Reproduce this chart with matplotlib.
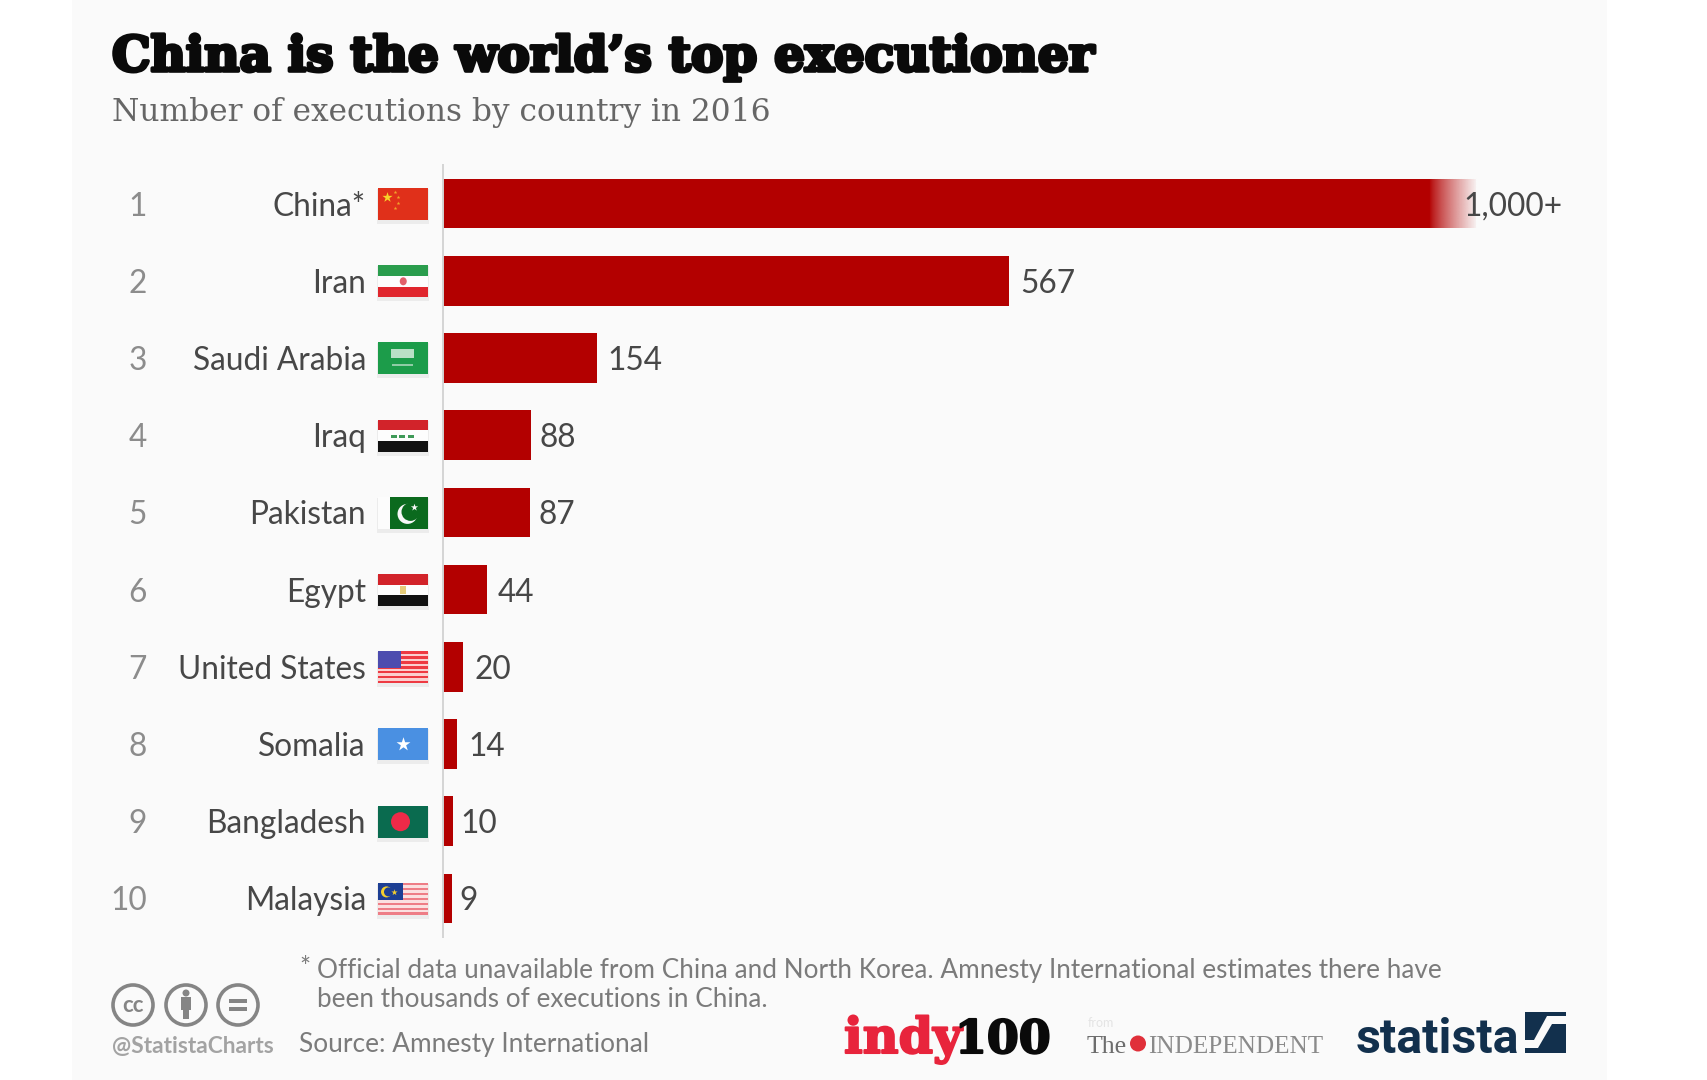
import numpy as np
import matplotlib
matplotlib.use("Agg")
import matplotlib.pyplot as plt
import matplotlib.patheffects as pe
from matplotlib.patches import Rectangle, Circle, Polygon, Ellipse

# ---- data ----
ranks = ["1", "2", "3", "4", "5", "6", "7", "8", "9", "10"]
countries = ["China*", "Iran", "Saudi Arabia", "Iraq", "Pakistan", "Egypt",
             "United States", "Somalia", "Bangladesh", "Malaysia"]
# China's bar is drawn longer than its scale value and fades out (open-ended "1,000+")
bar_values = [1035, 567, 154, 88, 87, 44, 20, 14, 10, 9]
value_labels = ["1,000+", "567", "154", "88", "87", "44", "20", "14", "10", "9"]
flags = ["cn", "ir", "sa", "iq", "pk", "eg", "us", "so", "bd", "my"]

title = "China is the world\u2019s top executioner"
subtitle = "Number of executions by country in 2016"
note_1 = "Official data unavailable from China and North Korea. Amnesty International estimates there have"
note_2 = "been thousands of executions in China."
source = "Source: Amnesty International"
handle = "@StatistaCharts"

W, H = 1708, 1080
PANEL = "#fafafa"
BAR = "#b30000"
TXT = "#474747"
LABEL_SIZE = 22.8
plt.rcParams["font.family"] = ["Lato", "DejaVu Sans"]

fig = plt.figure(figsize=(W / 100, H / 100), dpi=100, facecolor="white")
fig.add_artist(Rectangle((72 / W, 0), (1607 - 72) / W, 1, transform=fig.transFigure,
                         fc=PANEL, ec="none", zorder=0))

# ---- bars ----
ax = fig.add_axes([443 / W, 1 - 937 / H, (1607 - 443) / W, (937 - 165) / H], zorder=1)
ax.patch.set_visible(False)
y = np.arange(len(countries))
ax.barh(y, bar_values, height=0.64, color=BAR, zorder=2)
fade = np.ones((1, 64, 4))
fade[..., :3] = matplotlib.colors.to_rgb(PANEL)
fade[..., 3] = np.linspace(0, 0.97, 64) ** 0.8
ax.imshow(fade, extent=[bar_values[0] - 47, bar_values[0] + 1, 0.33, -0.33], aspect="auto", zorder=3)
ax.set_xlim(0, 1166)
ax.set_ylim(9.5, -0.5)
for s in ("top", "right", "bottom"):
    ax.spines[s].set_visible(False)
ax.spines["left"].set_color("#d4d4d4")
ax.spines["left"].set_linewidth(1.4)
ax.set_xticks([])
ax.set_yticks(y, countries)
ax.tick_params(axis="y", length=0, pad=55.5, labelsize=LABEL_SIZE, labelcolor=TXT)

for i, (v, lab) in enumerate(zip(bar_values, value_labels)):
    off = -9.5 if i == 0 else (6 if v < 100 and v > 50 else (5.5 if v < 11 else 8))
    ax.annotate(lab, (v, i), xytext=(off, 0), textcoords="offset points", ha="left",
                va="center_baseline", fontsize=LABEL_SIZE, color=TXT, zorder=4)

# ---- overlay in pixel units ----
ov = fig.add_axes([0, 0, 1, 1], zorder=2)
ov.set_xlim(0, W)
ov.set_ylim(H, 0)
ov.axis("off")


def rect(x, y0, w, h, c, z=3):
    ov.add_patch(Rectangle((x, y0), w, h, fc=c, ec="none", zorder=z))


def star(x, y0, s, c, z=5):
    ov.scatter([x], [y0], marker="*", s=s, color=c, linewidths=0, zorder=z)


def stripes(x, y0, w, h, n, c1, c2):
    for k in range(n):
        rect(x, y0 + k * h / n, w, h / n, c1 if k % 2 == 0 else c2, 4)


def draw_flag(code, cy):
    x, w, h = 378.5, 49.5, 32
    t = cy - h / 2
    rect(x - 1, t + 1, w + 2, h + 3, "#ececec", 2)
    if code == "cn":
        rect(x, t, w, h, "#e0301a")
        star(x + 9, t + 9, 60, "#f6d32a")
        for dx, dy in [(17, 4), (20, 9), (20, 15), (17, 20)]:
            star(x + dx, t + dy, 8, "#f2a52a")
    elif code == "ir":
        rect(x, t, w, h / 3, "#2a9d4d")
        rect(x, t + h / 3, w, h / 3, "#fdfdfd")
        rect(x, t + 2 * h / 3, w, h / 3, "#e0262d")
        ov.add_patch(Ellipse((x + w / 2, cy), 7, 8, fc="#e2606a", ec="none", zorder=5))
    elif code == "sa":
        rect(x, t, w, h, "#1c9c4a")
        rect(x + 13, t + 7, 23, 9, "#b9e0c6", 4)
        rect(x + 14, t + 22, 21, 2, "#8fcca5", 4)
    elif code == "iq":
        rect(x, t, w, h / 3, "#d2232a")
        rect(x, t + h / 3, w, h / 3, "#fdfdfd")
        rect(x, t + 2 * h / 3, w, h / 3, "#111111")
        for dx in (-9, -1, 8):
            rect(x + w / 2 + dx - 3, cy - 1, 6, 3, "#3f9a58", 5)
    elif code == "pk":
        rect(x, t, 12, h, "#fcfcfc")
        rect(x + 12, t, w - 12, h, "#0b6a1e")
        ov.add_patch(Circle((x + 29, cy + 1), 10, fc="#f8f8f8", ec="none", zorder=5))
        ov.add_patch(Circle((x + 32, cy - 1), 9, fc="#0b6a1e", ec="none", zorder=6))
        star(x + 36, t + 10, 30, "#f8f8f8", 7)
    elif code == "eg":
        rect(x, t, w, h / 3, "#d2232a")
        rect(x, t + h / 3, w, h / 3, "#fdfdfd")
        rect(x, t + 2 * h / 3, w, h / 3, "#111111")
        rect(x + w / 2 - 3, cy - 4, 6, 8, "#e6cc7a", 5)
    elif code == "us":
        stripes(x, t, w, h, 13, "#ee3a42", "#fbcfcf")
        rect(x, t, 23, 17, "#4c4caf", 5)
    elif code == "so":
        rect(x, t, w, h, "#4a90e2")
        star(x + w / 2, cy, 110, "#ffffff")
    elif code == "bd":
        rect(x, t, w, h, "#0a6b4f")
        ov.add_patch(Circle((x + 22, cy), 9.5, fc="#ee2a48", ec="none", zorder=5))
    elif code == "my":
        stripes(x, t, w, h, 13, "#ee7d86", "#fbe0e0")
        rect(x, t, 25, 17, "#1d3f94", 5)
        ov.add_patch(Circle((x + 8, t + 9), 5.5, fc="#f4cf2e", ec="none", zorder=6))
        ov.add_patch(Circle((x + 10, t + 9), 4.5, fc="#1d3f94", ec="none", zorder=7))
        star(x + 16, t + 9, 22, "#f4cf2e", 8)


fig.canvas.draw()
for i, (r, code) in enumerate(zip(ranks, flags)):
    cy = H - ax.transData.transform((0, i))[1]
    ov.text(147, cy, r, ha="right", va="center_baseline", fontsize=LABEL_SIZE, color="#8c8c8c")
    draw_flag(code, cy + 0.5)

# ---- headings ----
ov.text(112, 71, title, fontsize=34.9, family="DejaVu Serif", weight="bold", color="#0a0a0a",
        va="baseline", path_effects=[pe.withStroke(linewidth=2.6, foreground="#0a0a0a")])
ov.text(112, 120.5, subtitle, fontsize=22.5, family="DejaVu Serif", color="#666666", va="baseline")

# ---- footer ----
NOTE = "#7b7b7b"
ov.text(305, 976, "*", fontsize=18.8, color=NOTE, ha="center", va="baseline")
ov.text(317.5, 978, note_1, fontsize=18.8, color=NOTE, va="baseline")
ov.text(317.5, 1007, note_2, fontsize=18.8, color=NOTE, va="baseline")
ov.text(299.5, 1052, source, fontsize=18.9, color=NOTE, va="baseline")
ov.text(112, 1053, handle, fontsize=16.4, weight="bold", color="#a3a3a3", va="baseline")

ICON = "#858585"
IC = 1005
for cx in (133, 186, 238):
    ov.add_patch(Circle((cx, IC), 20, fc="none", ec=ICON, lw=2.6, zorder=4))
ov.text(133, IC + 1, "cc", fontsize=16, weight="bold", color=ICON, ha="center", va="center")
ov.add_patch(Circle((186, IC - 12), 3.5, fc=ICON, ec="none", zorder=5))
rect(181, IC - 8, 10, 13, ICON, 5)
rect(183, IC + 5, 6, 9, ICON, 5)
rect(229, IC - 6, 18, 3.5, ICON, 5)
rect(229, IC + 2, 18, 3.5, ICON, 5)

# ---- logos ----
ov.text(844, 1053, "indy", fontsize=35.5, family="DejaVu Serif", weight="bold", color="#e8243c",
        va="baseline", path_effects=[pe.withStroke(linewidth=1.5, foreground="#e8243c")])
ov.text(955, 1053, "100", fontsize=33, family="DejaVu Serif", weight="bold", color="#0a0a0a",
        va="baseline", path_effects=[pe.withStroke(linewidth=1.5, foreground="#0a0a0a")])
ov.text(1088, 1027, "from", fontsize=9, color="#e4e4e4", va="baseline")
ov.text(1087, 1053, "The", fontsize=18.5, family="Liberation Serif", color="#6d6d6d", va="baseline")
ov.add_patch(Circle((1138, 1043.5), 8, fc="#e0303a", ec="none", zorder=4))
ov.text(1148, 1053, "INDEPENDENT", fontsize=18.1, family="Liberation Serif", color="#8a8a8a", va="baseline")
ov.text(1356, 1053, "statista", fontsize=34.8, family="Roboto", weight="bold",
        color="#12304d", va="baseline")
rect(1525, 1012, 41, 41, "#12304d", 4)
ov.add_patch(Polygon([[1525, 1048], [1538, 1048], [1552, 1024], [1566, 1024], [1566, 1016],
                      [1547, 1016], [1534, 1040], [1525, 1040]], fc=PANEL, ec="none", zorder=5))

fig.savefig("out.png", dpi=100, facecolor=fig.get_facecolor())
